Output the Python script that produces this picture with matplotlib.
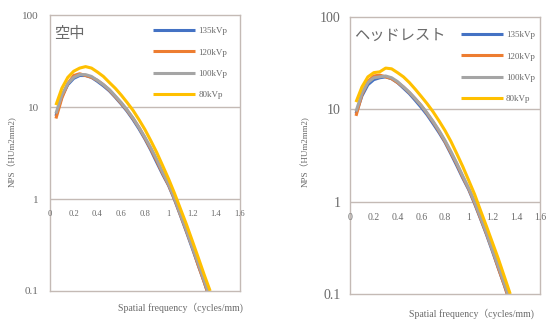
import matplotlib
matplotlib.use("Agg")
import matplotlib.pyplot as plt

plt.rcParams['font.family'] = ['Liberation Serif', 'Noto Sans CJK JP']

freq = [0.05, 0.10, 0.15, 0.20, 0.25, 0.30, 0.35, 0.40, 0.45, 0.50, 0.55, 0.60, 0.65,
        0.70, 0.75, 0.80, 0.85, 0.90, 0.95, 1.00, 1.05, 1.10, 1.15, 1.20, 1.25, 1.30, 1.35]

labels = ["135kVp", "120kVp", "100kVp", "80kVp"]
colors = ["#4472C4", "#ED7D31", "#A5A5A5", "#FFC000"]

# 空中
air_135 = [8.0, 13.0, 17.5, 20.5, 22.0, 22.0, 21.0, 19.0, 17.0, 15.0, 12.8, 10.8, 9.0,
           7.3, 5.8, 4.5, 3.4, 2.5, 1.85, 1.4, 0.98, 0.66, 0.44, 0.29, 0.19, 0.125, 0.08]
air_120 = [7.5, 12.5, 18.0, 22.0, 23.0, 22.0, 21.0, 19.5, 17.5, 15.3, 13.0, 11.0, 9.2,
           7.5, 6.0, 4.6, 3.5, 2.6, 1.9, 1.42, 1.0, 0.67, 0.45, 0.30, 0.19, 0.125, 0.08]
air_100 = [8.5, 13.5, 18.0, 21.0, 22.5, 22.5, 21.5, 19.5, 17.5, 15.5, 13.2, 11.2, 9.3,
           7.6, 6.0, 4.7, 3.6, 2.7, 1.95, 1.45, 1.02, 0.68, 0.46, 0.30, 0.20, 0.13, 0.085]
air_80 = [10.5, 16.0, 21.0, 24.5, 26.5, 27.5, 26.5, 24.0, 21.5, 18.5, 16.0, 13.5, 11.2,
          9.2, 7.3, 5.7, 4.3, 3.2, 2.3, 1.65, 1.15, 0.78, 0.53, 0.35, 0.23, 0.15, 0.10]

# ヘッドレスト
head_135 = [9.0, 14.0, 18.5, 21.0, 22.0, 22.5, 21.5, 19.5, 17.0, 14.8, 12.5, 10.5, 8.7,
            7.0, 5.6, 4.4, 3.3, 2.45, 1.8, 1.35, 0.95, 0.65, 0.44, 0.29, 0.19, 0.125, 0.08]
head_120 = [8.5, 14.5, 20.0, 23.0, 23.5, 22.5, 21.5, 19.5, 17.5, 15.2, 13.0, 11.0, 9.0,
            7.3, 5.8, 4.5, 3.4, 2.55, 1.85, 1.38, 0.97, 0.66, 0.45, 0.30, 0.19, 0.125, 0.08]
head_100 = [9.5, 15.0, 19.5, 22.0, 22.5, 23.0, 22.0, 20.0, 17.5, 15.3, 13.0, 11.0, 9.1,
            7.4, 5.9, 4.6, 3.5, 2.6, 1.9, 1.4, 1.0, 0.68, 0.46, 0.30, 0.20, 0.13, 0.085]
head_80 = [12.0, 17.5, 22.5, 25.0, 25.5, 28.0, 27.5, 25.0, 22.5, 19.5, 16.5, 13.8, 11.5,
           9.4, 7.5, 5.9, 4.5, 3.3, 2.4, 1.7, 1.2, 0.8, 0.54, 0.36, 0.24, 0.155, 0.10]

xticks = [0, 0.2, 0.4, 0.6, 0.8, 1, 1.2, 1.4, 1.6]
xtick_labels = ["0", "0.2", "0.4", "0.6", "0.8", "1", "1.2", "1.4", "1.6"]
yticks = [0.1, 1, 10, 100]
ytick_labels = ["0.1", "1", "10", "100"]

GRID = "#c4bab5"
TXT = "#6a6a6a"

panels = [
    dict(rect=[0.0914, 0.0963, 0.347, 0.857], title="空中", series=[air_135, air_120, air_100, air_80],
         yfs=8, ypad=8, xfs=6.2, leg=(0.53, 0.967), ylab_x=0.022, xlab_x=0.33, xlab_y=0.043),
    dict(rect=[0.640, 0.087, 0.347, 0.860], title="ヘッドレスト", series=[head_135, head_120, head_100, head_80],
         yfs=10, ypad=7, xfs=7, leg=(0.57, 0.96), ylab_x=0.558, xlab_x=0.862, xlab_y=0.025),
]

fig = plt.figure(figsize=(5.47, 3.22), dpi=100)
for p in panels:
    ax = fig.add_axes(p["rect"])
    for vals, lbl, c in zip(p["series"], labels, colors):
        ax.plot(freq, vals, color=c, lw=2.2, label=lbl, solid_capstyle="butt")
    ax.set_yscale("log")
    ax.set_ylim(0.1, 100)
    ax.set_xlim(0, 1.6)
    ax.set_yticks(yticks)
    ax.set_yticklabels(ytick_labels, fontsize=p["yfs"], color=TXT)
    ax.minorticks_off()
    ax.tick_params(axis="y", length=0, pad=p["ypad"])
    ax.set_xticks([])
    for s in ax.spines.values():
        s.set_color(GRID)
        s.set_linewidth(1.0)
    for yv in [1, 10]:
        ax.axhline(yv, color=GRID, lw=1.0, zorder=0)
    for xv, xl in zip(xticks, xtick_labels):
        ax.annotate(xl, (xv, 1), xytext=(0, -8), textcoords="offset points",
                    ha="center", va="top", fontsize=p["xfs"], color=TXT)
    ax.text(0.02, 0.93, p["title"], transform=ax.transAxes, fontsize=11,
            color=TXT, ha="left", va="center")
    leg = ax.legend(loc="upper left", bbox_to_anchor=p["leg"], frameon=False,
                    fontsize=6.5, handlelength=4.6, handletextpad=0.4,
                    labelspacing=1.45, borderaxespad=0, borderpad=0.3)
    for t in leg.get_texts():
        t.set_color(TXT)
    fig.text(p["ylab_x"], 0.53, "NPS（HUm2mm2)", rotation=90, fontsize=6.5,
             color=TXT, ha="center", va="center")
    fig.text(p["xlab_x"], p["xlab_y"], "Spatial frequency（cycles/mm)", fontsize=7,
             color=TXT, ha="center", va="center")

fig.savefig("out.png", dpi=100)
